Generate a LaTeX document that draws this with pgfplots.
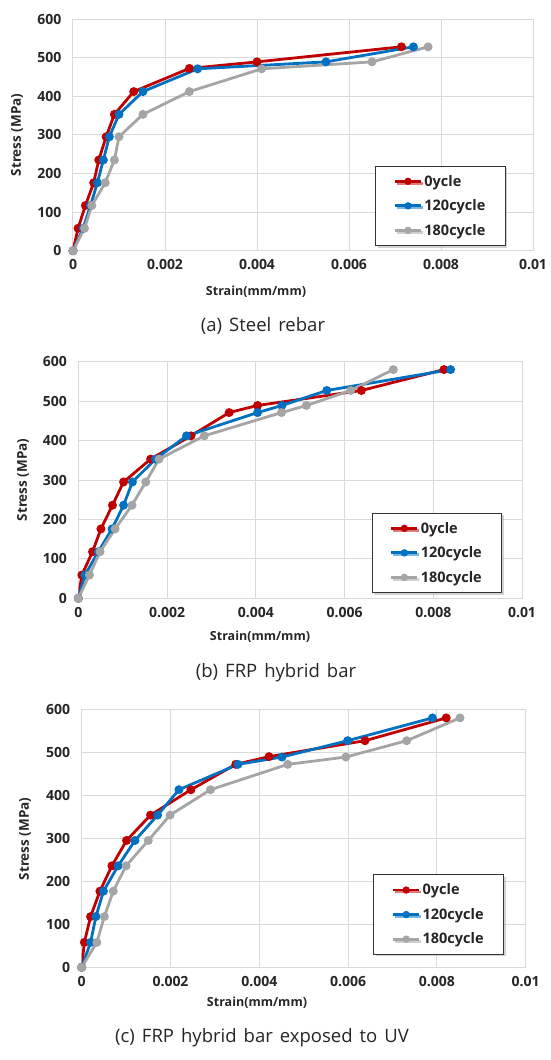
\documentclass[border=0pt]{standalone}
\usepackage{fontspec}
\setmainfont{Open Sans}
\usepackage{pgfplots}
\usepackage{pgfplotstable}
\pgfplotsset{compat=1.18}
\usetikzlibrary{shadows}

\definecolor{cRed}{HTML}{C00000}
\definecolor{cBlue}{HTML}{0070C0}
\definecolor{cGray}{HTML}{A5A5A5}
\definecolor{gridc}{HTML}{D9D9D9}

% (a) Steel rebar
\pgfplotstableread{
x y
0 0
0.00011 58
0.00027 117
0.00045 176
0.00056 235
0.00072 295
0.0009 353
0.00132 412
0.00253 472
0.0040 489
0.00714 528
}\aRed
\pgfplotstableread{
x y
0 0
0.00022 58
0.00038 117
0.00053 176
0.00066 235
0.00079 295
0.0010 353
0.00152 412
0.00271 471
0.0055 489
0.0074 528
}\aBlue
\pgfplotstableread{
x y
0 0
0.00025 58
0.00041 117
0.0007 176
0.0009 235
0.0010 295
0.00152 353
0.00253 412
0.0041 471
0.0065 489
0.00772 528
}\aGray
% (b) FRP hybrid bar
\pgfplotstableread{
x y
0 0
0.00008 59
0.00032 118
0.00051 176
0.00077 236
0.00102 295
0.00163 353
0.00254 412
0.0034 471
0.00404 489
0.00638 527
0.00824 580
}\bRed
\pgfplotstableread{
x y
0 0
0.00015 59
0.00045 118
0.00076 176
0.00102 236
0.00122 295
0.00174 353
0.00244 412
0.00404 471
0.00459 489
0.0056 527
0.00839 580
}\bBlue
\pgfplotstableread{
x y
0 0
0.00025 59
0.00049 118
0.00083 176
0.00121 236
0.00152 295
0.00182 353
0.00284 412
0.00458 471
0.00514 489
0.00614 527
0.0071 580
}\bGray
% (c) FRP hybrid bar exposed to UV
\pgfplotstableread{
x y
0 0
0.00006 58
0.0002 118
0.00041 177
0.00068 236
0.00101 295
0.00155 354
0.00246 413
0.00347 472
0.00422 490
0.00638 527
0.00821 580
}\cRed
\pgfplotstableread{
x y
0 0
0.0002 58
0.00032 118
0.00049 177
0.00082 236
0.0012 295
0.00171 354
0.00219 413
0.00352 472
0.00451 489
0.00599 527
0.0079 580
}\cBlue
\pgfplotstableread{
x y
0 0
0.00034 58
0.00051 118
0.00071 177
0.0010 236
0.0015 295
0.00199 354
0.0029 413
0.00464 472
0.00595 489
0.00732 527
0.00852 580
}\cGray

\pgfplotsset{
  panel/.style={
    scale only axis,
    xmin=0, xmax=0.01, ymin=0, ymax=600,
    xtick={0,0.002,0.004,0.006,0.008,0.01},
    xticklabels={0,0.002,0.004,0.006,0.008,0.01},
    scaled x ticks=false,
    ytick={0,100,200,300,400,500,600},
    grid=major,
    major grid style={draw=gridc, line width=1pt},
    axis line style={draw=gridc, line width=1pt},
    tick style={draw=none},
    /pgf/number format/assume math mode=true,
    tick label style={font=\bfseries\fontsize{14}{14}\selectfont, text=black!85},
    yticklabel style={anchor=east, xshift=-8pt},
    xticklabel style={anchor=center, yshift=-14pt},
    legend cell align=left,
    legend style={draw=black!80, line width=0.8pt, fill=white,
      drop shadow={shadow xshift=2pt, shadow yshift=-2pt, fill=black!35},
      font=\bfseries\fontsize{14.5}{14.5}\selectfont, text=black!85,
      row sep=8pt, inner xsep=18pt, inner ysep=7pt},
    legend image code/.code={
      \draw[mark repeat=2, mark phase=2, mark size=2.2pt, ##1]
        plot coordinates {(0pt,0pt) (13pt,0pt) (26pt,0pt)};},
    every axis plot/.append style={line width=2.8pt, mark=*, mark size=3pt},
  },
}

\begin{document}
\begin{tikzpicture}
\useasboundingbox (0,0) rectangle (550pt,-1060pt);

% ---------- (a)
\begin{axis}[panel, at={(73pt,-250.7pt)}, anchor=south west,
  width=460pt, height=231.7pt,
  legend style={at={(0.657,0.367)}, anchor=north west}]
\addplot[cRed, mark options={fill=cRed}] table {\aRed};
\addplot[cBlue, mark options={fill=cBlue}] table {\aBlue};
\addplot[cGray, mark options={fill=cGray}] table {\aGray};
\legend{0ycle,120cycle,180cycle}
\end{axis}
\node[rotate=90, font=\bfseries\fontsize{13.5}{13.5}\selectfont, text=black!85] at (17pt,-135pt) {Stress (MPa)};
\node[font=\bfseries\fontsize{12.5}{12.5}\selectfont, text=black!85] at (256pt,-291.5pt) {Strain(mm/mm)};
\node[font=\fontsize{18.5}{18.5}\selectfont, text=black!85] at (263pt,-326pt) {(a)\hspace{7pt}Steel\hspace{7pt}rebar};

% ---------- (b)
\begin{axis}[panel, at={(78.3pt,-598.3pt)}, anchor=south west,
  width=443.7pt, height=236.6pt,
  legend style={at={(0.661,0.362)}, anchor=north west}]
\addplot[cRed, mark options={fill=cRed}] table {\bRed};
\addplot[cBlue, mark options={fill=cBlue}] table {\bBlue};
\addplot[cGray, mark options={fill=cGray}] table {\bGray};
\legend{0ycle,120cycle,180cycle}
\end{axis}
\node[rotate=90, font=\bfseries\fontsize{13.5}{13.5}\selectfont, text=black!85] at (23pt,-480pt) {Stress (MPa)};
\node[font=\bfseries\fontsize{12.5}{12.5}\selectfont, text=black!85] at (260pt,-637pt) {Strain(mm/mm)};
\node[font=\fontsize{18.5}{18.5}\selectfont, text=black!85] at (276pt,-673pt) {(b)\hspace{7pt}FRP\hspace{7pt}hybrid\hspace{7pt}bar};

% ---------- (c)
\begin{axis}[panel, at={(81.7pt,-967.3pt)}, anchor=south west,
  width=444pt, height=258pt,
  legend style={at={(0.657,0.36)}, anchor=north west}]
\addplot[cRed, mark options={fill=cRed}] table {\cRed};
\addplot[cBlue, mark options={fill=cBlue}] table {\cBlue};
\addplot[cGray, mark options={fill=cGray}] table {\cGray};
\legend{0ycle,120cycle,180cycle}
\end{axis}
\node[rotate=90, font=\bfseries\fontsize{13.5}{13.5}\selectfont, text=black!85] at (25pt,-839pt) {Stress (MPa)};
\node[font=\bfseries\fontsize{12.5}{12.5}\selectfont, text=black!85] at (257pt,-1003pt) {Strain(mm/mm)};
\node[font=\fontsize{18.5}{18.5}\selectfont, text=black!85] at (262pt,-1038pt) {(c)\hspace{7pt}FRP\hspace{7pt}hybrid\hspace{7pt}bar\hspace{7pt}exposed\hspace{7pt}to\hspace{7pt}UV};
\end{tikzpicture}
\end{document}
